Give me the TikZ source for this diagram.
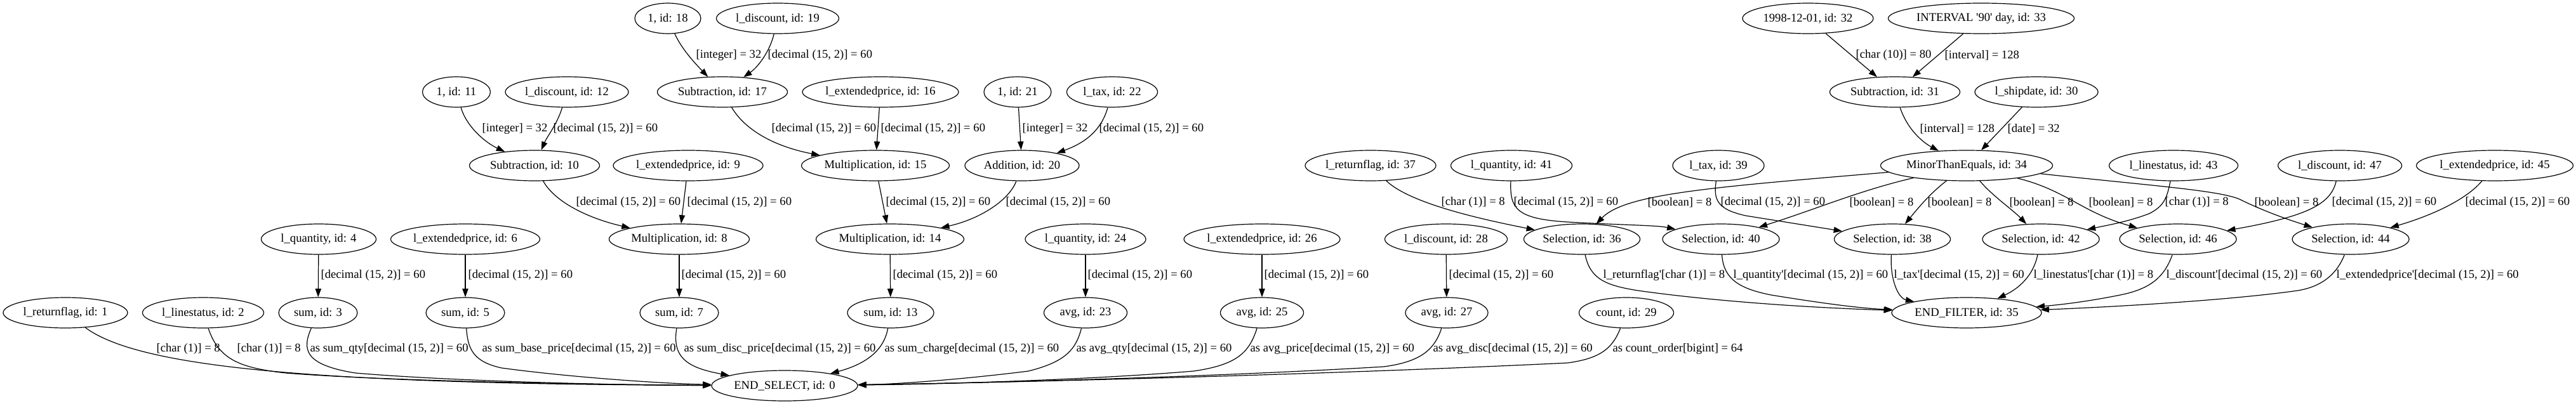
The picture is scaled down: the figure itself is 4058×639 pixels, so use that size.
\documentclass[tikz,border=0pt]{standalone}
\usepackage{fontspec}
\setmainfont{Liberation Serif}[Ligatures=TeXOff]
\usetikzlibrary{shapes.geometric,arrows.meta}
\tikzset{
  gnode/.style={ellipse, draw, line width=0.9pt, minimum height=36pt, minimum width={#1*0.75pt}, inner sep=0pt},
  gedge/.style={draw, line width=0.9pt, -{Triangle[length=10pt,width=7pt]}},
  glabel/.style={anchor=west, inner sep=0pt},
}
\begin{document}
\begin{tikzpicture}[x=0.75pt, y=-0.75pt, font=\fontsize{14pt}{16pt}\selectfont]
\fill[white] (0,0) rectangle (4058,639);
\useasboundingbox (0,0) rectangle (4058,639);

% rank 0
\node[gnode=104] (n18) at (1052,29) {1, id: 18};
\node[gnode=193] (n19) at (1225,29) {l\_discount, id: 19};
\node[gnode=206] (n32) at (2848,29) {1998-12-01, id: 32};
\node[gnode=293] (n33) at (3121,29) {INTERVAL '90' day, id: 33};
% rank 1
\node[gnode=107] (n11) at (719,145) {1, id: 11};
\node[gnode=194] (n12) at (893,145) {l\_discount, id: 12};
\node[gnode=205] (n17) at (1138,145) {Subtraction, id: 17};
\node[gnode=246] (n16) at (1387,145) {l\_extendedprice, id: 16};
\node[gnode=106] (n21) at (1603,145) {1, id: 21};
\node[gnode=143] (n22) at (1752,145) {l\_tax, id: 22};
\node[gnode=205] (n31) at (2985,145) {Subtraction, id: 31};
\node[gnode=194] (n30) at (3208,145) {l\_shipdate, id: 30};
% rank 2
\node[gnode=205] (n10) at (842,261) {Subtraction, id: 10};
\node[gnode=236] (n9) at (1084,261) {l\_extendedprice, id: 9};
\node[gnode=233] (n15) at (1379,261) {Multiplication, id: 15};
\node[gnode=180] (n20) at (1610,261) {Addition, id: 20};
\node[gnode=206] (n37) at (2159,261) {l\_returnflag, id: 37};
\node[gnode=191] (n41) at (2381,261) {l\_quantity, id: 41};
\node[gnode=144] (n39) at (2707,261) {l\_tax, id: 39};
\node[gnode=271] (n34) at (3098,261) {MinorThanEquals, id: 34};
\node[gnode=203] (n43) at (3424,261) {l\_linestatus, id: 43};
\node[gnode=195] (n47) at (3686,261) {l\_discount, id: 47};
\node[gnode=247] (n45) at (3930,261) {l\_extendedprice, id: 45};
% rank 3
\node[gnode=181] (n4) at (502,377) {l\_quantity, id: 4};
\node[gnode=235] (n6) at (733,377) {l\_extendedprice, id: 6};
\node[gnode=221] (n8) at (1070,377) {Multiplication, id: 8};
\node[gnode=233] (n14) at (1402,377) {Multiplication, id: 14};
\node[gnode=190] (n24) at (1710,377) {l\_quantity, id: 24};
\node[gnode=246] (n26) at (1988,377) {l\_extendedprice, id: 26};
\node[gnode=193] (n28) at (2278,377) {l\_discount, id: 28};
\node[gnode=183] (n36) at (2492,377) {Selection, id: 36};
\node[gnode=184] (n40) at (2711,377) {Selection, id: 40};
\node[gnode=183] (n38) at (2981,377) {Selection, id: 38};
\node[gnode=184] (n42) at (3215,377) {Selection, id: 42};
\node[gnode=184] (n46) at (3431,377) {Selection, id: 46};
\node[gnode=184] (n44) at (3703,377) {Selection, id: 44};
% rank 4
\node[gnode=196] (n1) at (103,493) {l\_returnflag, id: 1};
\node[gnode=191] (n2) at (320,493) {l\_linestatus, id: 2};
\node[gnode=124] (n3) at (501,493) {sum, id: 3};
\node[gnode=124] (n5) at (733,493) {sum, id: 5};
\node[gnode=124] (n7) at (1070,493) {sum, id: 7};
\node[gnode=136] (n13) at (1403,493) {sum, id: 13};
\node[gnode=131] (n23) at (1710,493) {avg, id: 23};
\node[gnode=131] (n25) at (1988,493) {avg, id: 25};
\node[gnode=130] (n27) at (2279,493) {avg, id: 27};
\node[gnode=149] (n29) at (2562,493) {count, id: 29};
\node[gnode=236] (n35) at (3098,493) {END\_FILTER, id: 35};
% rank 5
\node[gnode=230] (n0) at (1236,608) {END\_SELECT, id: 0};

% ---- left cluster edges
\draw[gedge] (n18) .. controls (1075,80) and (1100,105) .. (n17) node[glabel] at (1096,87) {[integer] = 32};
\draw[gedge] (n19) .. controls (1213,80) and (1195,105) .. (n17) node[glabel] at (1209,87) {[decimal (15, 2)] = 60};
\draw[gedge] (n11) .. controls (735,200) and (765,225) .. (n10) node[glabel] at (759,203) {[integer] = 32};
\draw[gedge] (n12) .. controls (878,195) and (862,215) .. (n10) node[glabel] at (871,203) {[decimal (15, 2)] = 60};
\draw[gedge] (n17) .. controls (1180,215) and (1240,235) .. (n15) node[glabel] at (1215,203) {[decimal (15, 2)] = 60};
\draw[gedge] (n16) -- (n15) node[glabel] at (1387,203) {[decimal (15, 2)] = 60};
\draw[gedge] (n21) -- (n20) node[glabel] at (1610,203) {[integer] = 32};
\draw[gedge] (n22) .. controls (1735,205) and (1710,225) .. (n20) node[glabel] at (1731,203) {[decimal (15, 2)] = 60};
\draw[gedge] (n10) .. controls (875,320) and (930,345) .. (n8) node[glabel] at (907,319) {[decimal (15, 2)] = 60};
\draw[gedge] (n9) -- (n8) node[glabel] at (1082,319) {[decimal (15, 2)] = 60};
\draw[gedge] (n15) -- (n14) node[glabel] at (1395,319) {[decimal (15, 2)] = 60};
\draw[gedge] (n20) .. controls (1590,315) and (1545,345) .. (n14) node[glabel] at (1584,319) {[decimal (15, 2)] = 60};
\draw[gedge] (n4) -- (n3) node[glabel] at (505,434) {[decimal (15, 2)] = 60};
\draw[gedge] (n6) -- (n5) node[glabel] at (737,434) {[decimal (15, 2)] = 60};
\draw[gedge] (n8) -- (n7) node[glabel] at (1073,434) {[decimal (15, 2)] = 60};
\draw[gedge] (n14) -- (n13) node[glabel] at (1406,434) {[decimal (15, 2)] = 60};
\draw[gedge] (n24) -- (n23) node[glabel] at (1713,434) {[decimal (15, 2)] = 60};
\draw[gedge] (n26) -- (n25) node[glabel] at (1991,434) {[decimal (15, 2)] = 60};
\draw[gedge] (n28) -- (n27) node[glabel] at (2282,434) {[decimal (15, 2)] = 60};

% ---- edges into END_SELECT
\draw[gedge] (n1) .. controls (220,580) and (500,605) .. (n0) node[glabel] at (246,550) {[char (1)] = 8};
\draw[gedge] (n2) .. controls (345,568) and (380,580) .. (450,588) .. controls (600,600) and (900,606) .. (n0) node[glabel] at (373,550) {[char (1)] = 8};
\draw[gedge] (n3) .. controls (476,550) and (478,575) .. (560,588) .. controls (700,600) and (950,607) .. (n0) node[glabel] at (488,550) {as sum\_qty[decimal (15, 2)] = 60};
\draw[gedge] (n5) .. controls (737,550) and (745,570) .. (790,580) .. controls (900,595) and (1050,605) .. (n0) node[glabel] at (759,550) {as sum\_base\_price[decimal (15, 2)] = 60};
\draw[gedge] (n7) .. controls (1058,565) and (1085,580) .. (n0) node[glabel] at (1077,550) {as sum\_disc\_price[decimal (15, 2)] = 60};
\draw[gedge] (n13) .. controls (1392,555) and (1360,575) .. (n0) node[glabel] at (1393,550) {as sum\_charge[decimal (15, 2)] = 60};
\draw[gedge] (n23) .. controls (1695,550) and (1680,570) .. (1620,585) .. controls (1500,600) and (1400,606) .. (n0) node[glabel] at (1695,550) {as avg\_qty[decimal (15, 2)] = 60};
\draw[gedge] (n25) .. controls (1968,555) and (1950,575) .. (1880,585) .. controls (1700,600) and (1450,606) .. (n0) node[glabel] at (1969,550) {as avg\_price[decimal (15, 2)] = 60};
\draw[gedge] (n27) .. controls (2260,550) and (2240,570) .. (2180,578) .. controls (1900,595) and (1500,605) .. (n0) node[glabel] at (2257,550) {as avg\_disc[decimal (15, 2)] = 60};
\draw[gedge] (n29) .. controls (2540,550) and (2520,565) .. (2470,572) .. controls (2100,590) and (1600,603) .. (n0) node[glabel] at (2540,550) {as count\_order[bigint] = 64};

% ---- right cluster edges
\draw[gedge] (n32) -- (n31) node[glabel] at (2923,87) {[char (10)] = 80};
\draw[gedge] (n33) -- (n31) node[glabel] at (3063,87) {[interval] = 128};
\draw[gedge] (n31) .. controls (3005,205) and (3030,225) .. (n34) node[glabel] at (3024,203) {[interval] = 128};
\draw[gedge] (n30) -- (n34) node[glabel] at (3162,203) {[date] = 32};

\draw[gedge] (n37) .. controls (2220,320) and (2330,345) .. (n36) node[glabel] at (2270,319) {[char (1)] = 8};
\draw[gedge] (n41) .. controls (2378,330) and (2390,345) .. (2470,350) .. controls (2560,355) and (2610,355) .. (n40) node[glabel] at (2384,319) {[decimal (15, 2)] = 60};
\draw[gedge] (n34) .. controls (2700,295) and (2560,305) .. (n36) node[glabel] at (2595,319) {[boolean] = 8};
\draw[gedge] (n39) .. controls (2699,315) and (2705,330) .. (2750,340) -- (n38) node[glabel] at (2710,319) {[decimal (15, 2)] = 60};
\draw[gedge] (n34) .. controls (2930,300) and (2860,330) .. (n40) node[glabel] at (2913,319) {[boolean] = 8};
\draw[gedge] (n34) .. controls (3040,305) and (3020,330) .. (n38) node[glabel] at (3036,319) {[boolean] = 8};
\draw[gedge] (n34) .. controls (3140,310) and (3170,330) .. (n42) node[glabel] at (3165,319) {[boolean] = 8};
\draw[gedge] (n34) .. controls (3255,300) and (3280,335) .. (n46) node[glabel] at (3290,319) {[boolean] = 8};
\draw[gedge] (n43) .. controls (3414,310) and (3410,325) .. (3385,337) .. controls (3350,350) and (3320,355) .. (n42) node[glabel] at (3410,319) {[char (1)] = 8};
\draw[gedge] (n34) .. controls (3380,292) and (3500,300) .. (3530,315) .. controls (3560,330) and (3600,345) .. (n44) node[glabel] at (3551,319) {[boolean] = 8};
\draw[gedge] (n47) .. controls (3672,320) and (3640,340) .. (n46) node[glabel] at (3673,319) {[decimal (15, 2)] = 60};
\draw[gedge] (n45) .. controls (3885,315) and (3830,340) .. (n44) node[glabel] at (3883,319) {[decimal (15, 2)] = 60};

% ---- edges into END_FILTER
\draw[gedge] (n36) .. controls (2505,440) and (2530,450) .. (2580,458) .. controls (2700,475) and (2850,485) .. (n35) node[glabel] at (2525,434) {l\_returnflag'[char (1)] = 8};
\draw[gedge] (n40) .. controls (2715,440) and (2740,455) .. (2790,465) .. controls (2870,478) and (2930,486) .. (n35) node[glabel] at (2730,434) {l\_quantity'[decimal (15, 2)] = 60};
\draw[gedge] (n38) .. controls (2977,440) and (2990,470) .. (n35) node[glabel] at (2983,434) {l\_tax'[decimal (15, 2)] = 60};
\draw[gedge] (n42) .. controls (3203,435) and (3180,455) .. (n35) node[glabel] at (3203,434) {l\_linestatus'[char (1)] = 8};
\draw[gedge] (n46) .. controls (3410,435) and (3390,455) .. (3340,465) .. controls (3290,475) and (3250,480) .. (n35) node[glabel] at (3412,434) {l\_discount'[decimal (15, 2)] = 60};
\draw[gedge] (n44) .. controls (3680,435) and (3655,452) .. (3620,458) .. controls (3500,475) and (3300,485) .. (n35) node[glabel] at (3680,434) {l\_extendedprice'[decimal (15, 2)] = 60};
\end{tikzpicture}
\end{document}
